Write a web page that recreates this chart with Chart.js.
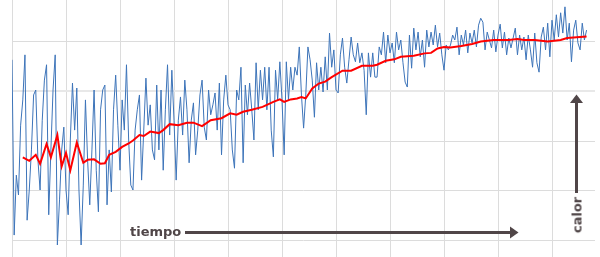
<!DOCTYPE html>
<html>
<head>
<meta charset="utf-8">
<script src="https://cdn.jsdelivr.net/npm/chart.js@4"></script>
<style>
  html, body { margin: 0; padding: 0; background: #ffffff; }
  #wrap { position: relative; width: 600px; height: 257px; overflow: hidden; }
  canvas { position: absolute; left: 0; top: 0; }
  .lbl { position: absolute; font-family: "DejaVu Sans", sans-serif; font-weight: bold; font-size: 13px; color: #504648; white-space: nowrap; line-height: 1; }
  #tiempo { left: 130px; top: 225px; }
  #calor { left: 577px; top: 215px; transform: translate(-50%, -50%) rotate(-90deg); }
</style>
</head>
<body>
<div id="wrap">
  <canvas id="c" width="600" height="257"></canvas>
  <div class="lbl" id="tiempo">tiempo</div>
  <div class="lbl" id="calor">calor</div>
</div>
<script>
// Raw (noisy) heat readings, one per time step
const rawHeat = [
  36.4, 1.0, 13.1, 9.1, 23.2, 28.3, 37.4, 4.0, 10.1, 18.2, 29.3, 30.3, 16.2, 10.1, 24.2, 32.3, 35.4, 5.1, 18.2, 30.3, 37.4, -1.0, 8.1, 18.2, 22.8, 10.1, 5.1, 20.2, 31.7, 22.2, 30.7, 10.1, -1.0, 11.1,
  28.3, 16.2, 7.1, 18.2, 30.3, 14.1, 5.7, 26.3, 30.3, 31.3, 7.1, 18.2, 9.7, 26.3, 33.3, 23.2, 14.1, 28.3, 22.2, 35.4, 20.2, 11.1, 10.1, 22.2, 26.3, 29.3, 12.1, 22.2, 32.7, 23.2, 27.3, 18.2, 16.2, 31.3,
  18.2, 30.3, 14.1, 26.3, 35.4, 21.2, 34.3, 24.2, 12.1, 24.2, 28.9, 21.2, 32.3, 26.3, 15.6, 24.2, 27.7, 17.2, 22.2, 29.3, 32.3, 22.8, 20.2, 30.3, 25.3, 27.3, 29.7, 22.2, 31.7, 17.2, 28.3, 33.3, 27.3,
  26.3, 18.2, 14.5, 30.3, 28.3, 34.9, 15.6, 31.3, 25.3, 31.7, 26.3, 20.2, 35.8, 26.3, 34.3, 28.3, 34.9, 26.3, 34.9, 22.2, 16.8, 34.3, 28.3, 36.0, 28.3, 17.2, 36.0, 28.3, 34.9, 30.3, 34.9, 33.3, 39.0, 29.3,
  22.6, 29.3, 39.0, 36.4, 32.3, 24.8, 35.8, 30.3, 34.9, 29.9, 37.0, 30.3, 41.8, 34.9, 38.4, 30.3, 29.7, 37.4, 40.8, 34.9, 31.7, 36.4, 41.0, 37.4, 36.0, 39.8, 35.8, 37.8, 34.3, 25.3, 37.8, 32.9, 37.8, 32.9,
  32.9, 39.0, 37.4, 42.0, 35.8, 41.4, 37.8, 39.8, 35.8, 42.0, 38.4, 40.4, 35.8, 31.9, 30.9, 41.4, 34.7, 42.8, 38.4, 42.0, 37.0, 40.4, 34.9, 42.4, 39.0, 42.0, 39.4, 43.4, 39.0, 41.8, 37.4, 34.3, 39.4, 38.4,
  39.4, 41.4, 40.4, 43.0, 37.4, 41.4, 39.4, 42.4, 37.8, 41.8, 39.8, 42.4, 39.0, 43.4, 44.8, 44.0, 38.4, 42.0, 40.4, 38.8, 42.4, 38.0, 41.4, 43.6, 38.8, 42.0, 37.4, 40.8, 38.8, 40.8, 42.8, 37.4, 41.4,
  38.4, 41.0, 36.4, 41.4, 38.4, 34.9, 41.8, 35.8, 33.9, 41.0, 43.0, 38.4, 43.8, 37.0, 44.4, 40.4, 45.5, 41.0, 45.9, 41.8, 47.1, 40.4, 43.8, 36.0, 42.4, 44.4, 39.8, 38.4, 43.8, 40.4, 42.4
];

// Smoothed trend (red): time step and value
const trendStep = [5, 8, 11, 13, 16, 18, 21, 23, 25, 27, 30, 33, 35, 38, 41, 43, 45, 48, 51, 54, 56, 59, 61, 64, 68, 70, 73, 77, 81, 84, 88, 92, 97, 101, 104, 107, 111, 116, 119, 121, 124, 126, 129, 132, 134, 136, 139, 142, 145, 148, 153, 157, 162, 167, 169, 173, 177, 180, 186, 191, 194, 197, 200, 203, 208, 213, 217, 223, 230, 234, 237, 242, 248, 254, 257, 266];
const trendHeat = [16.7, 16.0, 17.2, 15.4, 19.4, 16.7, 21.2, 14.9, 17.6, 14.1, 19.7, 15.6, 16.2, 16.3, 15.4, 15.5, 17.2, 17.8, 18.8, 19.5, 20.1, 21.2, 21.0, 21.9, 21.6, 22.2, 23.4, 23.2, 23.7, 23.7, 23.0, 24.2, 24.6, 25.6, 25.3, 25.9, 26.3, 26.9, 27.5, 27.9, 28.4, 27.9, 28.4, 28.6, 28.9, 28.6, 30.6, 31.6, 32.0, 32.9, 34.2, 34.2, 35.2, 35.2, 35.4, 36.2, 36.5, 37.0, 37.2, 37.7, 37.8, 38.7, 39.0, 38.9, 39.2, 39.6, 40.1, 40.4, 40.4, 40.6, 40.4, 40.4, 40.1, 40.4, 40.8, 41.1];

// Axis tick spacing
const timeTickStep = 25;
const heatTickStep = 10;

const arrowPlugin = {
  id: 'arrows',
  afterDraw(chart) {
    const ctx = chart.ctx;
    ctx.save();
    ctx.fillStyle = '#504648';
    ctx.strokeStyle = '#504648';
    ctx.lineWidth = 3;
    // horizontal "tiempo" arrow
    ctx.beginPath();
    ctx.moveTo(185, 232.5);
    ctx.lineTo(511, 232.5);
    ctx.stroke();
    ctx.beginPath();
    ctx.moveTo(510, 226.5);
    ctx.lineTo(518.5, 232.5);
    ctx.lineTo(510, 238.5);
    ctx.closePath();
    ctx.fill();
    // vertical "calor" arrow
    ctx.beginPath();
    ctx.moveTo(576.5, 193);
    ctx.lineTo(576.5, 102);
    ctx.stroke();
    ctx.beginPath();
    ctx.moveTo(570, 103);
    ctx.lineTo(576.5, 94.5);
    ctx.lineTo(583, 103);
    ctx.closePath();
    ctx.fill();
    ctx.restore();
  }
};

new Chart(document.getElementById('c'), {
  type: 'line',
  data: {
    datasets: [
      {
        label: 'tendencia',
        data: trendStep.map((t, k) => ({ x: t, y: trendHeat[k] })),
        borderColor: '#ff0000',
        borderWidth: 2,
        pointRadius: 0,
        tension: 0,
        fill: false,
        order: 0
      },
      {
        label: 'calor',
        data: rawHeat.map((v, i) => ({ x: i, y: v })),
        borderColor: '#3d74b9',
        borderWidth: 1,
        pointRadius: 0,
        tension: 0,
        fill: false,
        order: 1
      }
    ]
  },
  options: {
    responsive: false,
    animation: false,
    events: [],
    layout: { padding: { left: 12, right: 5, top: 0, bottom: 0 } },
    plugins: { legend: { display: false }, tooltip: { enabled: false } },
    scales: {
      x: {
        type: 'linear',
        min: 0,
        max: 269.9,
        ticks: { display: false, stepSize: timeTickStep, includeBounds: false },
        grid: { color: '#dcdcdc', drawTicks: false, lineWidth: 1 },
        border: { display: false }
      },
      y: {
        type: 'linear',
        min: -3.43,
        max: 48.48,
        ticks: { display: false, stepSize: heatTickStep, includeBounds: false },
        grid: {
          drawTicks: false,
          color: (c) => (c.tick && c.tick.value === 30 ? '#e8e8e8' : '#dcdcdc'),
          lineWidth: (c) => (c.tick && c.tick.value === 30 ? 2 : 1)
        },
        border: { display: false }
      }
    }
  },
  plugins: [arrowPlugin]
});
</script>
</body>
</html>
